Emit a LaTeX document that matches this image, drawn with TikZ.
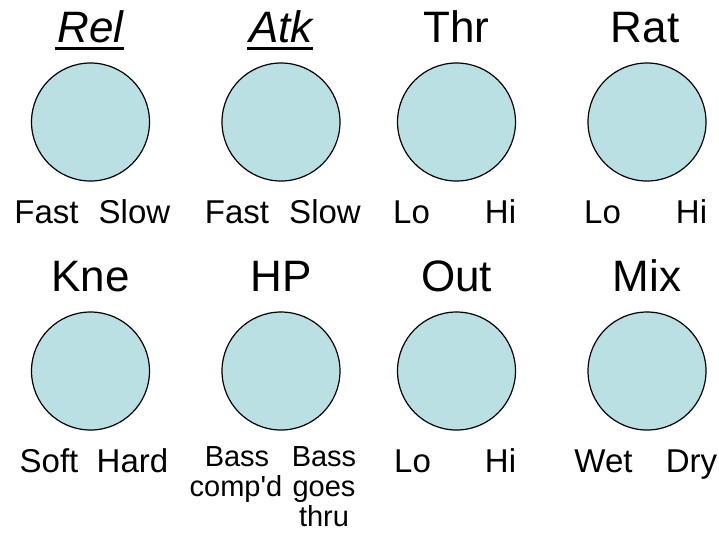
\documentclass[tikz,border=0pt]{standalone}
\usepackage{fontspec}
\setmainfont{Liberation Sans}[Ligatures=TeXOff]
\definecolor{knobfill}{RGB}{187,224,227}
\begin{document}
\begin{tikzpicture}[x=1pt,y=-1pt,
  knob/.style={circle,draw=black,line width=1.2pt,fill=knobfill,minimum size=118pt,inner sep=0pt},
  knobtitle/.style={font=\fontsize{44}{50}\selectfont,anchor=base,inner sep=0pt},
  endlabel/.style={font=\fontsize{33}{38}\selectfont,anchor=base,inner sep=0pt},
  smalllabel/.style={font=\fontsize{29}{33}\selectfont,anchor=base,inner sep=0pt},
  uline/.style={line width=3pt}]
\useasboundingbox (0,0) rectangle (719,539);

% ---- top row ----
\node[knob] (krel) at (90.5,122) {};
\node[knob] (katk) at (281,122) {};
\node[knob] (kthr) at (456.5,122) {};
\node[knob] (krat) at (647,122) {};

\node[knobtitle] (trel) at (90.5,42) {\itshape Rel};
\node[knobtitle] (tatk) at (281,42) {\itshape Atk};
\node[knobtitle] (tthr) at (456.5,42) {Thr};
\node[knobtitle] (trat) at (645,42) {Rat};
\draw[uline] ([yshift=-6pt,xshift=-2pt]trel.base west) -- ([yshift=-6pt]trel.base east);
\draw[uline] ([yshift=-6pt,xshift=-2pt]tatk.base west) -- ([yshift=-6pt]tatk.base east);

\node[endlabel] (rel-l) at (46.5,223) {Fast};
\node[endlabel] (rel-r) at (134.5,223) {Slow};
\node[endlabel] (atk-l) at (237,223) {Fast};
\node[endlabel] (atk-r) at (325,223) {Slow};
\node[endlabel] (thr-l) at (411.5,223) {Lo};
\node[endlabel] (thr-r) at (500.5,223) {Hi};
\node[endlabel] (rat-l) at (602.5,223) {Lo};
\node[endlabel] (rat-r) at (691.5,223) {Hi};

% ---- bottom row ----
\node[knob] (kkne) at (90.5,371) {};
\node[knob] (khp) at (281,371) {};
\node[knob] (kout) at (456.5,371) {};
\node[knob] (kmix) at (647,371) {};

\node[knobtitle] (tkne) at (90.5,291) {Kne};
\node[knobtitle] (thp) at (281,291) {HP};
\node[knobtitle] (tout) at (456.5,291) {Out};
\node[knobtitle] (tmix) at (647,291) {Mix};

\node[endlabel] (kne-l) at (49,472) {Soft};
\node[endlabel] (kne-r) at (132.5,472) {Hard};
\node[smalllabel] (hp-l1) at (237,466) {Bass};
\node[smalllabel] (hp-l2) at (236,496) {comp'd};
\node[smalllabel] (hp-r1) at (324,466) {Bass};
\node[smalllabel] (hp-r2) at (324,496) {goes};
\node[smalllabel] (hp-r3) at (324,526) {thru};
\node[endlabel] (out-l) at (412.5,472) {Lo};
\node[endlabel] (out-r) at (500.5,472) {Hi};
\node[endlabel] (mix-l) at (603.5,472) {Wet};
\node[endlabel] (mix-r) at (691.5,472) {Dry};
\end{tikzpicture}
\end{document}
